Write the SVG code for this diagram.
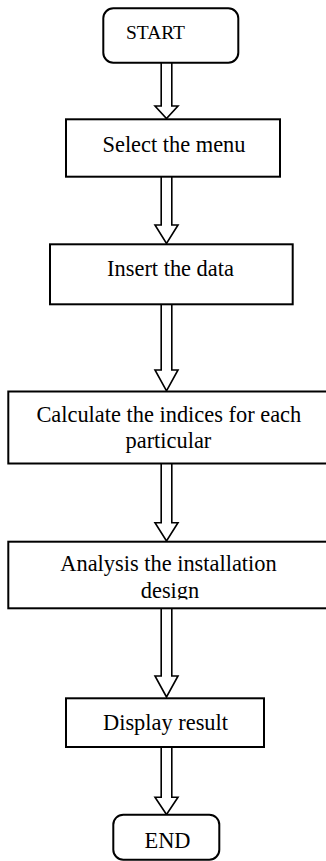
<svg xmlns="http://www.w3.org/2000/svg" width="326" height="861" viewBox="0 0 326 861">
<style>
.box{fill:#fff;stroke:#000;stroke-width:2}
.arr{fill:#fff;stroke:#000;stroke-width:1.6;stroke-linejoin:miter}
text{font-family:"Liberation Serif","Times New Roman",serif;font-size:22.4px;fill:#000;text-anchor:middle}
</style>
<defs>
<clipPath id="clipA"><rect x="0" y="540" width="326" height="59.5"/></clipPath>
</defs>
<rect width="326" height="861" fill="#fff"/>
<g id="connectors">
<path class="arr" d="M161.2 62.7 V106 H155 L166.5 118.6 L178 106 H171.8 V62.7"/>
<path class="arr" d="M161.2 176.7 V225 H155 L166.5 243.5 L178 225 H171.8 V176.7"/>
<path class="arr" d="M161.2 304.3 V370 H155 L166.5 390.8 L178 370 H171.8 V304.3"/>
<path class="arr" d="M161.2 463.5 V522.7 H155 L166.5 541 L178 522.7 H171.8 V463.5"/>
<path class="arr" d="M161.2 608.3 V676 H155 L166.5 697 L178 676 H171.8 V608.3"/>
<path class="arr" d="M161.2 747 V797.3 H155 L166.5 814.5 L178 797.3 H171.8 V747"/>
</g>
<g id="start">
<rect class="box" x="103.3" y="8.3" width="135" height="54.4" rx="10"/>
<text x="155.5" y="39" style="font-size:19.5px">START</text>
</g>
<g id="select">
<rect class="box" x="66" y="119.3" width="214" height="57.4"/>
<text x="174" y="151.7">Select the menu</text>
</g>
<g id="insert">
<rect class="box" x="50" y="244.3" width="242.7" height="60"/>
<text x="170.5" y="276">Insert the data</text>
</g>
<g id="calculate">
<rect class="box" x="8.3" y="391.5" width="322" height="72"/>
<text x="168.8" y="421.7">Calculate the indices for each</text>
<text x="168.4" y="448">particular</text>
</g>
<g id="analysis">
<rect class="box" x="8.3" y="541.7" width="322" height="66.6"/>
<g clip-path="url(#clipA)">
<text x="168.5" y="570.8">Analysis the installation</text>
<text x="170" y="597.7">design</text>
</g>
</g>
<g id="display">
<rect class="box" x="66" y="698.3" width="198" height="48.7"/>
<text x="165.5" y="730">Display result</text>
</g>
<g id="end">
<rect class="box" x="113.3" y="814.7" width="106" height="45" rx="10"/>
<text x="167.5" y="847.7">END</text>
</g>
</svg>
